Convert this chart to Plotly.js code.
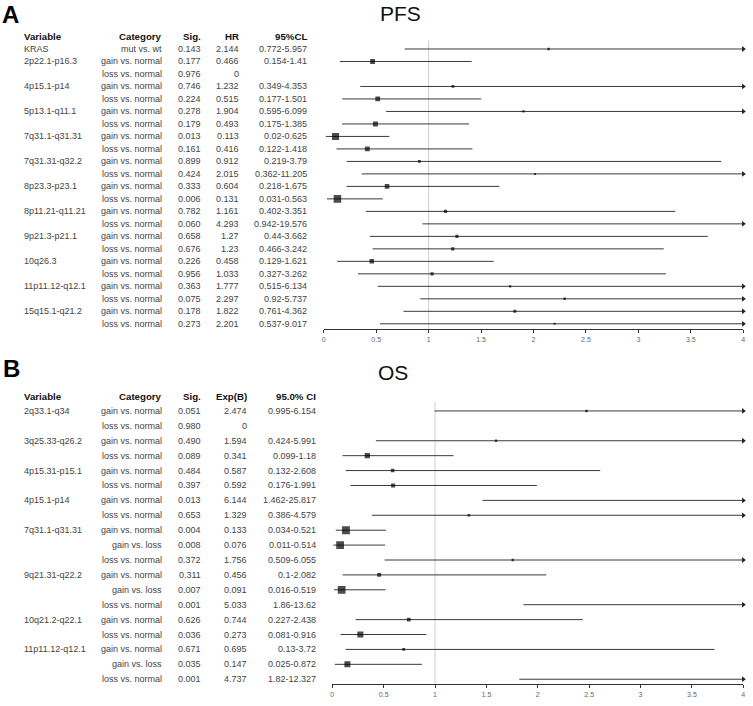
<!DOCTYPE html>
<html><head><meta charset="utf-8">
<script src="https://cdn.plot.ly/plotly-3.0.1.min.js"></script>
<style>html,body{margin:0;padding:0;background:#fff}</style>
</head><body>
<div id="chart" style="width:753px;height:706px"></div>
<script>
// ---------- Panel A (PFS) ----------
const varA = ['KRAS','2p22.1-p16.3','','4p15.1-p14','','5p13.1-q11.1','','7q31.1-q31.31','','7q31.31-q32.2','','8p23.3-p23.1','','8p11.21-q11.21','','9p21.3-p21.1','','10q26.3','','11p11.12-q12.1','','15q15.1-q21.2',''];
const catA = ['mut vs. wt','gain vs. normal','loss vs. normal','gain vs. normal','loss vs. normal','gain vs. normal','loss vs. normal','gain vs. normal','loss vs. normal','gain vs. normal','loss vs. normal','gain vs. normal','loss vs. normal','gain vs. normal','loss vs. normal','gain vs. normal','loss vs. normal','gain vs. normal','loss vs. normal','gain vs. normal','loss vs. normal','gain vs. normal','loss vs. normal'];
const sigA = [0.143,0.177,0.976,0.746,0.224,0.278,0.179,0.013,0.161,0.899,0.424,0.333,0.006,0.782,0.060,0.658,0.676,0.226,0.956,0.363,0.075,0.178,0.273];
const hrA  = [2.144,0.466,0,1.232,0.515,1.904,0.493,0.113,0.416,0.912,2.015,0.604,0.131,1.161,4.293,1.27,1.23,0.458,1.033,1.777,2.297,1.822,2.201];
const loA  = [0.772,0.154,null,0.349,0.177,0.595,0.175,0.02,0.122,0.219,0.362,0.218,0.031,0.402,0.942,0.44,0.466,0.129,0.327,0.515,0.92,0.761,0.537];
const hiA  = [5.957,1.41,null,4.353,1.501,6.099,1.385,0.625,1.418,3.79,11.205,1.675,0.563,3.351,19.576,3.662,3.242,1.621,3.262,6.134,5.737,4.362,9.017];
const headA = ['Variable','Category','Sig.','HR','95%CL'];

// ---------- Panel B (OS) ----------
const varB = ['2q33.1-q34','','3q25.33-q26.2','','4p15.31-p15.1','','4p15.1-p14','','7q31.1-q31.31','','','9q21.31-q22.2','','','10q21.2-q22.1','','11p11.12-q12.1','',''];
const catB = ['gain vs. normal','loss vs. normal','gain vs. normal','loss vs. normal','gain vs. normal','loss vs. normal','gain vs. normal','loss vs. normal','gain vs. normal','gain vs. loss','loss vs. normal','gain vs. normal','gain vs. loss','loss vs. normal','gain vs. normal','loss vs. normal','gain vs. normal','gain vs. loss','loss vs. normal'];
const sigB = [0.051,0.980,0.490,0.089,0.484,0.397,0.013,0.653,0.004,0.008,0.372,0.311,0.007,0.001,0.626,0.036,0.671,0.035,0.001];
const expB = [2.474,0,1.594,0.341,0.587,0.592,6.144,1.329,0.133,0.076,1.756,0.456,0.091,5.033,0.744,0.273,0.695,0.147,4.737];
const loB  = [0.995,null,0.424,0.099,0.132,0.176,1.462,0.386,0.034,0.011,0.509,0.1,0.016,1.86,0.227,0.081,0.13,0.025,1.82];
const hiB  = [6.154,null,5.991,1.18,2.608,1.991,25.817,4.579,0.521,0.514,6.055,2.082,0.519,13.62,2.438,0.916,3.72,0.872,12.327];
const headB = ['Variable','Category','Sig.','Exp(B)','95.0% CI'];

const XMAX = 4;
const W = 753, H = 706;
const FONT = 'Liberation Sans, Arial, sans-serif';
const px = v => v / W;
const py = v => 1 - v / H;

function panelTraces(lo, hi, est, xa, ya) {
  const lx = [], ly = [];
  const sx = [], sy = [], ss = [];
  const ax = [], ay = [];
  for (let i = 0; i < est.length; i++) {
    if (lo[i] !== null && hi[i] !== null) {
      lx.push(lo[i], Math.min(hi[i], XMAX), null);
      ly.push(i, i, null);
      if (hi[i] > XMAX) { ax.push(XMAX); ay.push(i); }
      if (est[i] > 0 && est[i] <= XMAX) {
        sx.push(est[i]); sy.push(i);
        ss.push(Math.max(2, Math.min(9, 5.5 / Math.sqrt(hi[i] - lo[i]))));
      }
    }
  }
  return [
    {type:'scatter', mode:'lines', x:lx, y:ly, xaxis:xa, yaxis:ya, line:{color:'#3a3a3a', width:1}, hoverinfo:'skip'},
    {type:'scatter', mode:'markers', x:sx, y:sy, xaxis:xa, yaxis:ya, marker:{symbol:'square', size:ss, color:'#000', line:{width:0}}},
    {type:'scatter', mode:'markers', x:ax, y:ay, xaxis:xa, yaxis:ya, cliponaxis:false, marker:{symbol:'triangle-right', size:5, color:'#222', line:{width:0}}}
  ];
}

const traces = [].concat(
  panelTraces(loA, hiA, hrA, 'x', 'y'),
  panelTraces(loB, hiB, expB, 'x2', 'y2')
);

const ann = [];
function tableAnn(vars, cats, sigs, ests, lo, hi, head, yref, cols) {
  head.forEach((h, k) => {
    ann.push({xref:'paper', yref:yref, x:px(cols[k]), y:-1, text:'<b>'+h+'</b>', showarrow:false,
      xanchor: k === 0 ? 'left' : 'right', yanchor:'middle', font:{family:FONT, size:9.7, color:'#111'}});
  });
  for (let i = 0; i < vars.length; i++) {
    const ci = (lo[i] !== null) ? (String(lo[i]) + '-' + String(hi[i])) : '';
    const cells = [vars[i], cats[i], sigs[i].toFixed(3), String(ests[i]), ci];
    cells.forEach((t, k) => {
      if (!t) return;
      ann.push({xref:'paper', yref:yref, x:px(cols[k]), y:i, text:t, showarrow:false,
        xanchor: k === 0 ? 'left' : 'right', yanchor:'middle', font:{family:FONT, size:9, color:'#444'}});
    });
  }
}
tableAnn(varA, catA, sigA, hrA, loA, hiA, headA, 'y', [22, 164, 202.5, 240.5, 308.5]);
tableAnn(varB, catB, sigB, expB, loB, hiB, headB, 'y2', [22, 164, 202.5, 248.5, 317.5]);

ann.push({xref:'paper', yref:'paper', x:px(1), y:1, text:'<b>A</b>', showarrow:false, xanchor:'left', yanchor:'top', borderpad:0, font:{family:FONT, size:24, color:'#000'}});
ann.push({xref:'paper', yref:'paper', x:px(1), y:py(368), text:'<b>B</b>', showarrow:false, xanchor:'left', yanchor:'middle', font:{family:FONT, size:24, color:'#000'}});
ann.push({xref:'paper', yref:'paper', x:px(400), y:py(13.5), text:'PFS', showarrow:false, xanchor:'center', yanchor:'middle', font:{family:FONT, size:21, color:'#111'}});
ann.push({xref:'paper', yref:'paper', x:px(393), y:py(373), text:'OS', showarrow:false, xanchor:'center', yanchor:'middle', font:{family:FONT, size:21, color:'#111'}});

const axisStyle = {
  range:[0, XMAX], dtick:0.5, tick0:0, showgrid:false, zeroline:false,
  showline:true, linecolor:'#333', linewidth:1, ticks:'outside', ticklen:3, tickcolor:'#333',
  tickfont:{family:FONT, size:7, color:'#666'}, fixedrange:true
};
const yHidden = {visible:false, showgrid:false, zeroline:false, fixedrange:true};

const layout = {
  width:W, height:H, margin:{l:0, r:0, t:0, b:0, pad:0},
  paper_bgcolor:'#fff', plot_bgcolor:'#fff', showlegend:false,
  xaxis: Object.assign({}, axisStyle, {domain:[px(323.7), px(743.3)], anchor:'y'}),
  yaxis: Object.assign({}, yHidden, {domain:[py(329.3), py(30)], range:[22.44, -1.52], anchor:'x'}),
  xaxis2: Object.assign({}, axisStyle, {domain:[px(332.3), px(743.3)], anchor:'y2'}),
  yaxis2: Object.assign({}, yHidden, {domain:[py(684.3), py(388)], range:[18.34, -1.54], anchor:'x2'}),
  shapes: [
    {type:'line', xref:'x', yref:'y', x0:1, x1:1, y0:-0.64, y1:22.44, line:{color:'#cfcfcf', width:1}, layer:'below'},
    {type:'line', xref:'x2', yref:'y2', x0:1, x1:1, y0:-0.62, y1:18.34, line:{color:'#cfcfcf', width:1}, layer:'below'}
  ],
  annotations: ann
};

Plotly.newPlot('chart', traces, layout, {displayModeBar:false, staticPlot:true});
</script>
</body></html>
